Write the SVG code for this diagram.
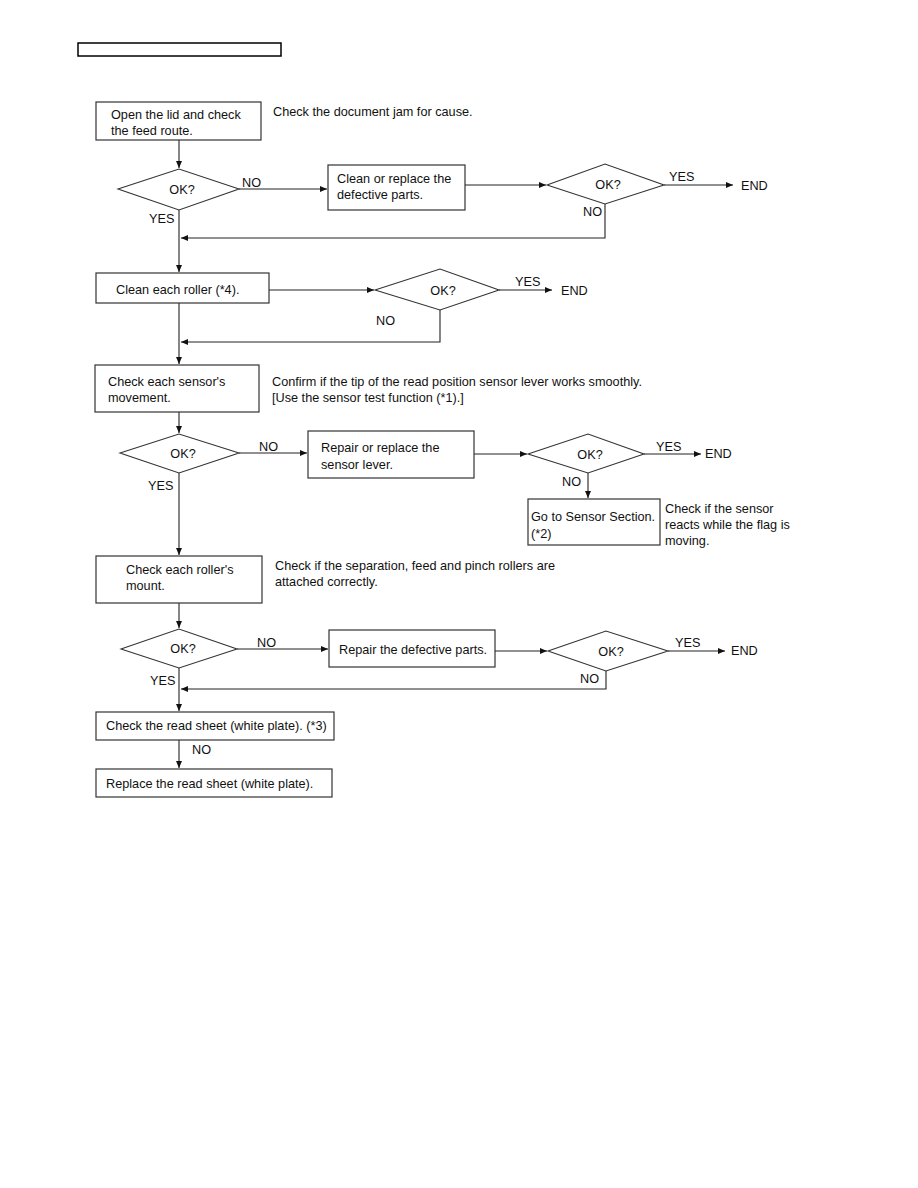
<svg xmlns="http://www.w3.org/2000/svg" width="918" height="1188" viewBox="0 0 918 1188">
<style>
text{font-family:"Liberation Sans",Arial,sans-serif;font-size:12.7px;fill:#111}
.b{fill:#fff;stroke:#333;stroke-width:1.2}
.d{fill:#fff;stroke:#333;stroke-width:1.1}
.c{fill:none;stroke:#222;stroke-width:1.1}
.m{text-anchor:middle}
</style>
<defs>
<marker id="a" markerUnits="userSpaceOnUse" markerWidth="8" markerHeight="8" refX="7" refY="4" orient="auto">
<path d="M0,1 L7,4 L0,7 Z" fill="#111"/>
</marker>
</defs>
<rect x="78" y="43" width="203" height="13" fill="none" stroke="#000" stroke-width="1.5"/>
<g id="connectors">
<line class="c" x1="179" y1="140" x2="179" y2="168" marker-end="url(#a)"/>
<line class="c" x1="239" y1="189" x2="327" y2="189" marker-end="url(#a)"/>
<line class="c" x1="465" y1="185" x2="546" y2="185" marker-end="url(#a)"/>
<line class="c" x1="664" y1="185" x2="733" y2="185" marker-end="url(#a)"/>
<polyline class="c" points="605,204 605,238 181,238" marker-end="url(#a)"/>
<line class="c" x1="179" y1="210" x2="179" y2="272" marker-end="url(#a)"/>
<line class="c" x1="269" y1="290" x2="374" y2="290" marker-end="url(#a)"/>
<line class="c" x1="499" y1="290" x2="552" y2="290" marker-end="url(#a)"/>
<polyline class="c" points="440,310 440,342 181,342" marker-end="url(#a)"/>
<line class="c" x1="179" y1="303" x2="179" y2="364" marker-end="url(#a)"/>
<line class="c" x1="179" y1="412" x2="179" y2="433" marker-end="url(#a)"/>
<line class="c" x1="239" y1="453" x2="307" y2="453" marker-end="url(#a)"/>
<line class="c" x1="474" y1="454" x2="527" y2="454" marker-end="url(#a)"/>
<line class="c" x1="644" y1="454" x2="701" y2="454" marker-end="url(#a)"/>
<line class="c" x1="588" y1="473" x2="588" y2="498" marker-end="url(#a)"/>
<line class="c" x1="179" y1="473" x2="179" y2="555" marker-end="url(#a)"/>
<line class="c" x1="179" y1="603" x2="179" y2="628" marker-end="url(#a)"/>
<line class="c" x1="237" y1="649" x2="328" y2="649" marker-end="url(#a)"/>
<line class="c" x1="495" y1="651" x2="547" y2="651" marker-end="url(#a)"/>
<line class="c" x1="668" y1="651" x2="725" y2="651" marker-end="url(#a)"/>
<polyline class="c" points="606,671 606,689 181,689" marker-end="url(#a)"/>
<line class="c" x1="179" y1="668" x2="179" y2="711" marker-end="url(#a)"/>
<line class="c" x1="179" y1="740" x2="179" y2="768" marker-end="url(#a)"/>
<text x="242" y="187">NO</text>
<text x="149" y="223">YES</text>
<text x="669" y="181">YES</text>
<text x="583" y="216">NO</text>
<text x="515" y="286">YES</text>
<text x="376" y="325">NO</text>
<text x="259" y="451">NO</text>
<text x="148" y="490">YES</text>
<text x="656" y="451">YES</text>
<text x="562" y="486">NO</text>
<text x="257" y="647">NO</text>
<text x="150" y="685">YES</text>
<text x="675" y="647">YES</text>
<text x="580" y="683">NO</text>
<text x="192" y="754">NO</text>
</g>
<g id="n1"><rect class="b" x="96" y="102" width="165" height="38"/><text x="111" y="119">Open the lid and check</text><text x="111" y="135">the feed route.</text></g>
<g id="note1"><text x="273" y="116">Check the document jam for cause.</text></g>
<g id="d1"><polygon class="d" points="118,189 179,169 239,189 179,210"/><text class="m" x="182" y="194">OK?</text></g>
<g id="n2"><rect class="b" x="328" y="165" width="137" height="45"/><text x="337" y="183">Clean or replace the</text><text x="337" y="199">defective parts.</text></g>
<g id="d2"><polygon class="d" points="547,185 605,164 664,185 605,204"/><text class="m" x="608" y="189">OK?</text></g>
<g id="e1"><text x="741" y="190">END</text></g>
<g id="n3"><rect class="b" x="96" y="273" width="173" height="30"/><text x="116" y="294">Clean each roller (*4).</text></g>
<g id="d3"><polygon class="d" points="375,290 440,269 499,290 440,310"/><text class="m" x="443" y="295">OK?</text></g>
<g id="e2"><text x="561" y="295">END</text></g>
<g id="n4"><rect class="b" x="95" y="365" width="164" height="47"/><text x="108" y="386">Check each sensor's</text><text x="108" y="402">movement.</text></g>
<g id="note2"><text x="272" y="386">Confirm if the tip of the read position sensor lever works smoothly.</text><text x="272" y="402">[Use the sensor test function (*1).]</text></g>
<g id="d4"><polygon class="d" points="120,453 179,434 239,453 179,473"/><text class="m" x="183" y="458">OK?</text></g>
<g id="n5"><rect class="b" x="308" y="431" width="166" height="47"/><text x="321" y="452">Repair or replace the</text><text x="321" y="469">sensor lever.</text></g>
<g id="d5"><polygon class="d" points="528,454 588,434 644,454 588,473"/><text class="m" x="590" y="459">OK?</text></g>
<g id="e3"><text x="705" y="458">END</text></g>
<g id="n6"><rect class="b" x="528" y="499" width="132" height="46"/><text x="531" y="521">Go to Sensor Section.</text><text x="531" y="538">(*2)</text></g>
<g id="note3"><text x="665" y="513">Check if the sensor</text><text x="665" y="529">reacts while the flag is</text><text x="665" y="545">moving.</text></g>
<g id="n7"><rect class="b" x="96" y="556" width="166" height="47"/><text x="126" y="574">Check each roller's</text><text x="126" y="590">mount.</text></g>
<g id="note4"><text x="275" y="570">Check if the separation, feed and pinch rollers are</text><text x="275" y="586">attached correctly.</text></g>
<g id="d6"><polygon class="d" points="121,649 179,629 237,649 179,668"/><text class="m" x="183" y="653">OK?</text></g>
<g id="n8"><rect class="b" x="329" y="630" width="166" height="37"/><text x="339" y="654">Repair the defective parts.</text></g>
<g id="d7"><polygon class="d" points="548,651 606,631 668,651 606,671"/><text class="m" x="611" y="656">OK?</text></g>
<g id="e4"><text x="731" y="655">END</text></g>
<g id="n9"><rect class="b" x="96" y="712" width="238" height="28"/><text x="106" y="730">Check the read sheet (white plate). (*3)</text></g>
<g id="n10"><rect class="b" x="96" y="769" width="236" height="28"/><text x="106" y="788">Replace the read sheet (white plate).</text></g>
</svg>
